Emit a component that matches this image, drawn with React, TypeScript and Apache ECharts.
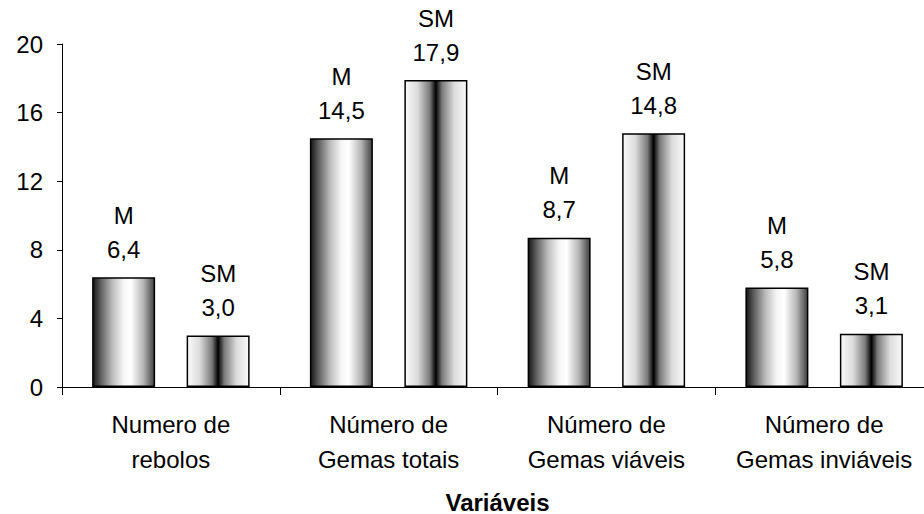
import React, { useEffect, useRef } from "react";
import * as echarts from "echarts";

const categories = [
  "Numero de\nrebolos",
  "Número de\nGemas totais",
  "Número de\nGemas viáveis",
  "Número de\nGemas inviáveis",
];
const seriesNames = ["M", "SM"];
const valuesM = [6.4, 14.5, 8.7, 5.8];
const valuesSM = [3.0, 17.9, 14.8, 3.1];
const yTicks = { min: 0, max: 20, interval: 4 };
const xAxisTitle = "Variáveis";

const FONT = "'Liberation Sans', Arial, sans-serif";
const FS = 24;

const fmt = (v: number) => v.toFixed(1).replace(".", ",");

// Left-dark, bright middle, grey right edge
const gradM = new echarts.graphic.LinearGradient(0, 0, 1, 0, [
  { offset: 0, color: "#151515" },
  { offset: 0.12, color: "#5a5a5a" },
  { offset: 0.32, color: "#bdbdbd" },
  { offset: 0.5, color: "#f6f6f6" },
  { offset: 0.62, color: "#ffffff" },
  { offset: 0.82, color: "#b5b5b5" },
  { offset: 1, color: "#404040" },
]);

// Light edges, black stripe in the centre
const gradSM = new echarts.graphic.LinearGradient(0, 0, 1, 0, [
  { offset: 0, color: "#fafafa" },
  { offset: 0.2, color: "#dcdcdc" },
  { offset: 0.4, color: "#7a7a7a" },
  { offset: 0.5, color: "#000000" },
  { offset: 0.6, color: "#7a7a7a" },
  { offset: 0.8, color: "#dcdcdc" },
  { offset: 1, color: "#fafafa" },
]);

export default function App() {
  const ref = useRef<HTMLDivElement>(null);

  useEffect(() => {
    if (!ref.current) return;
    const chart = echarts.init(ref.current, null, { renderer: "svg" });

    const makeSeries = (name: string, data: number[], color: any) => ({
      name,
      type: "bar",
      data,
      barWidth: 63,
      barGap: "50%",
      itemStyle: { color, borderColor: "#000", borderWidth: 1.5 },
      label: {
        show: true,
        position: "top",
        distance: 11,
        color: "#000",
        fontFamily: FONT,
        fontSize: FS,
        lineHeight: 34,
        formatter: (p: any) => `${name}\n${fmt(p.value)}`,
      },
    });

    chart.setOption({
      animation: false,
      backgroundColor: "#fff",
      grid: { left: 62, top: 44, width: 871, bottom: 127, outerBoundsMode: "none" },
      xAxis: {
        type: "category",
        data: categories,
        name: xAxisTitle,
        nameLocation: "middle",
        nameGap: 103,
        nameTextStyle: {
          fontFamily: FONT,
          fontSize: FS,
          fontWeight: "bold",
          color: "#000",
        },
        axisLine: { lineStyle: { color: "#000", width: 1 } },
        axisTick: {
          show: true,
          interval: 0,
          length: 8,
          alignWithLabel: false,
          lineStyle: { color: "#000" },
        },
        axisLabel: {
          interval: 0,
          hideOverlap: false,
          fontFamily: FONT,
          fontSize: FS,
          color: "#000",
          lineHeight: 35,
          margin: 20,
        },
        splitLine: { show: false },
      },
      yAxis: {
        type: "value",
        min: yTicks.min,
        max: yTicks.max,
        interval: yTicks.interval,
        axisLine: { show: true, lineStyle: { color: "#000", width: 1 } },
        axisTick: { show: true, length: 5, lineStyle: { color: "#000" } },
        axisLabel: {
          fontFamily: FONT,
          fontSize: FS,
          color: "#000",
          margin: 19,
        },
        splitLine: { show: false },
      },
      series: [
        makeSeries(seriesNames[0], valuesM, gradM),
        makeSeries(seriesNames[1], valuesSM, gradSM),
      ],
    });

    return () => chart.dispose();
  }, []);

  return (
    <div
      ref={ref}
      style={{ position: "fixed", left: 0, top: 0, width: 924, height: 514, background: "#fff" }}
    />
  );
}
